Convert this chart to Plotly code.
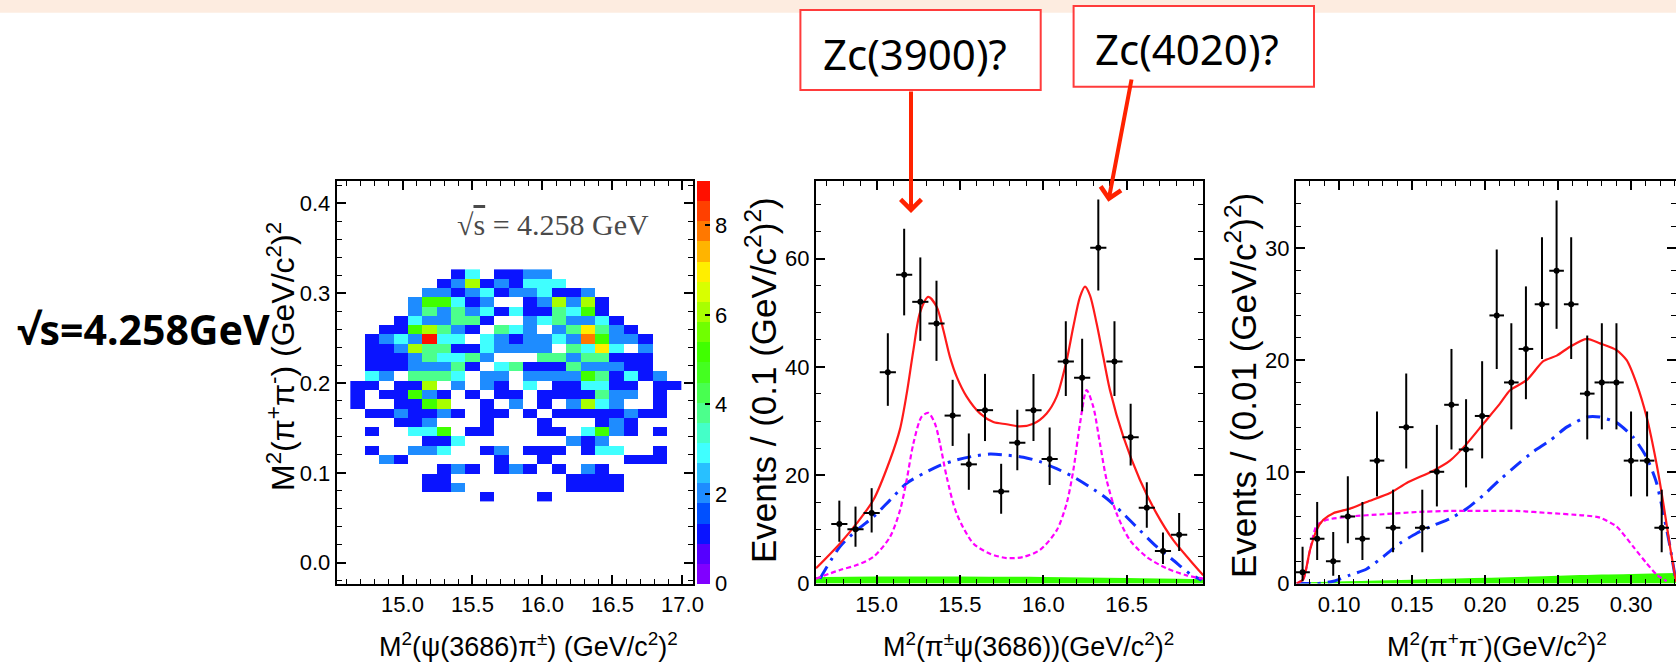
import plotly.graph_objects as go

W, H = 1676, 667

# ---------------- 2D distribution (counts per cell) ----------------
dal_x = [14.679, 14.782, 14.885, 14.988, 15.091, 15.193, 15.296, 15.399, 15.502,
         15.605, 15.708, 15.811, 15.914, 16.017, 16.120, 16.223, 16.325, 16.428,
         16.531, 16.634, 16.737, 16.840, 16.943]
dal_y = [0.3213, 0.3110, 0.3006, 0.2903, 0.2799, 0.2696, 0.2592, 0.2489, 0.2385,
         0.2282, 0.2178, 0.2075, 0.1971, 0.1868, 0.1764, 0.1661, 0.1557, 0.1454,
         0.1350, 0.1247, 0.1143, 0.1040, 0.0936, 0.0833, 0.0729]
# one string per row (top to bottom), one character per cell, '.' = empty
dal_rows = [
    ".......13.1122.........",
    "......126121333........",
    ".....221231223112......",
    "....255312..126261.....",
    "....24242313114351.....",
    "...1322441..2342231....",
    "..1156421.432.247421...",
    ".1232933.321223285221..",
    ".1126441132222.4373.2..",
    ".111243342...44244111..",
    ".11122241.34111422211..",
    ".32.4443.22.2222541312.",
    "11.116.2.21.3.113311.11",
    "1.11521.1.11.1111422.1.",
    "1..1156..1.2.1.2632..1.",
    ".1121121.11.1.11111211.",
    "...112...1...1...121...",
    ".1..335.11...11.3521.1.",
    ".....113.......212.....",
    ".1..223..12.111.133..1.",
    "..21......1..1.....111.",
    "......121.121.1.21.....",
    ".....11........1111....",
    ".....112.......1111....",
    ".........1...1.........",
]
dal_z = [[None if ch == "." else int(ch) for ch in row] for row in dal_rows]

# ---------------- M2(pi psi(3686)) projection ----------------
mid_x = [14.776, 14.873, 14.970, 15.067, 15.165, 15.262, 15.359, 15.456, 15.553,
         15.650, 15.747, 15.844, 15.941, 16.038, 16.135, 16.233, 16.330, 16.427,
         16.524, 16.621, 16.718, 16.815]
mid_n = [11, 10, 13, 39, 57, 52, 48, 31, 22, 32, 17, 26, 32, 23, 41, 38, 62, 41,
         27, 14, 6, 9]
mid_err_up = [4.3, 4.2, 4.6, 7.2, 8.5, 8.2, 7.9, 6.6, 5.7, 6.7, 5.1, 6.1, 6.7, 5.8,
              7.4, 7.2, 8.9, 7.4, 6.2, 4.7, 3.4, 4.0]
mid_err_lo = [3.3, 3.2, 3.6, 6.2, 7.5, 7.2, 6.9, 5.6, 4.7, 5.7, 4.1, 5.1, 5.7, 4.8,
              6.4, 6.2, 7.9, 6.4, 5.2, 3.7, 2.4, 3.0]

mid_tot_x = [14.636, 14.78, 14.88, 14.98, 15.08, 15.14, 15.18, 15.22, 15.26, 15.31,
             15.36, 15.40, 15.44, 15.48, 15.54, 15.62, 15.70, 15.78, 15.86, 15.94,
             16.02, 16.08, 16.14, 16.18, 16.22, 16.25, 16.28, 16.32, 16.36, 16.40,
             16.48, 16.58, 16.68, 16.78, 16.88, 16.96]
mid_tot_y = [2.8, 7.4, 11.1, 15.4, 22.8, 28.5, 35.0, 43.0, 50.0, 52.9,
             51.1, 46.8, 41.8, 38.2, 34.5, 31.4, 29.8, 29.4, 29.0, 29.5,
             31.4, 34.5, 41.2, 47.4, 52.9, 54.8, 53.2, 48.0, 41.8, 35.7,
             27.1, 19.1, 12.9, 8.0, 4.3, 1.5]
mid_sig_x = [14.636, 14.78, 14.88, 14.98, 15.08, 15.14, 15.18, 15.22, 15.27, 15.31,
             15.35, 15.38, 15.42, 15.48, 15.58, 15.68, 15.78, 15.88, 15.98, 16.08,
             16.14, 16.18, 16.22, 16.26, 16.30, 16.34, 16.38, 16.44, 16.52, 16.62,
             16.74, 16.86, 16.96]
mid_sig_y = [0.9, 2.5, 3.4, 4.9, 8.6, 13.5, 19.1, 25.8, 30.8, 31.5,
             29.5, 25.8, 19.7, 12.9, 7.4, 5.5, 4.7, 4.9, 6.2, 9.8,
             14.8, 20.9, 29.5, 35.7, 32.6, 25.8, 19.1, 12.9, 8.0, 4.9,
             2.8, 1.5, 0.9]
mid_bkg_x = [14.66, 14.78, 14.88, 14.98, 15.08, 15.18, 15.28, 15.38, 15.48, 15.58,
             15.68, 15.78, 15.88, 15.98, 16.08, 16.18, 16.28, 16.38, 16.48, 16.58,
             16.68, 16.78, 16.88, 16.95]
mid_bkg_y = [0.9, 6.8, 9.8, 12.3, 15.4, 18.5, 20.3, 21.8, 22.8, 23.5,
             23.9, 23.7, 23.3, 22.5, 21.2, 19.7, 17.8, 15.7, 12.9, 9.8,
             6.8, 4.3, 1.8, 0.6]
mid_flat_x = [14.636, 15.0, 15.5, 16.0, 16.5, 16.96]
mid_flat_y = [1.2, 1.3, 1.3, 1.2, 1.0, 0.8]

# ---------------- M2(pi+ pi-) projection ----------------
pp_x = [0.075, 0.085, 0.096, 0.106, 0.116, 0.126, 0.137, 0.146, 0.157, 0.167,
        0.177, 0.187, 0.198, 0.208, 0.218, 0.228, 0.239, 0.249, 0.259, 0.270,
        0.280, 0.290, 0.300, 0.311, 0.321]
pp_n = [1, 4, 2, 6, 4, 11, 5, 14, 5, 10, 16, 12, 15, 24, 18, 21, 25, 28, 25, 17,
        18, 18, 11, 11, 5]
pp_err_up = [2.3, 3.3, 2.6, 3.6, 3.3, 4.4, 3.4, 4.8, 3.4, 4.2, 5.0, 4.5, 4.9, 5.9,
             5.3, 5.6, 6.0, 6.3, 6.0, 5.2, 5.3, 5.3, 4.4, 4.4, 3.4]
pp_err_lo = [0.8, 1.9, 1.3, 2.4, 1.9, 3.2, 2.2, 3.7, 2.2, 3.1, 4.0, 3.4, 3.8, 4.8,
             4.2, 4.5, 4.9, 5.2, 4.9, 4.1, 4.2, 4.2, 3.2, 3.2, 2.2]

pp_tot_x = [0.0710, 0.0755, 0.0801, 0.0847, 0.0892, 0.0961, 0.1075, 0.1189, 0.1349,
            0.1463, 0.1645, 0.1760, 0.1874, 0.1988, 0.2102, 0.2171, 0.2285, 0.2399,
            0.2491, 0.2582, 0.2696, 0.2787, 0.2901, 0.2970, 0.3038, 0.3107, 0.3175,
            0.3221, 0.3267, 0.3308]
pp_tot_y = [0.0, 0.4, 3.0, 4.8, 5.7, 6.3, 6.7, 7.3, 8.1,
            9.0, 10.1, 11.0, 12.5, 14.3, 16.1, 17.3, 18.2, 19.9,
            20.4, 21.2, 21.9, 21.5, 20.9, 20.0, 17.9, 14.9, 10.7,
            7.2, 3.3, 0.15]
pp_sig_x = [0.0710, 0.0755, 0.0801, 0.0847, 0.0915, 0.1075, 0.1303, 0.1532, 0.1760,
            0.1988, 0.2217, 0.2445, 0.2673, 0.2787, 0.2901, 0.3015, 0.3107, 0.3175,
            0.3244]
pp_sig_y = [0.0, 0.4, 3.0, 5.2, 5.7, 6.0, 6.2, 6.4, 6.5,
            6.5, 6.5, 6.3, 6.1, 5.9, 5.1, 3.3, 1.8, 0.8, 0.2]
pp_bkg_x = [0.0710, 0.0847, 0.0961, 0.1075, 0.1189, 0.1303, 0.1417, 0.1532, 0.1645,
            0.1760, 0.1874, 0.1988, 0.2102, 0.2217, 0.2330, 0.2445, 0.2559, 0.2696,
            0.2787, 0.2901, 0.3015, 0.3107, 0.3175, 0.3221, 0.3267, 0.3308]
pp_bkg_y = [0.0, 0.0, 0.2, 0.75, 1.3, 2.4, 3.6, 4.5, 5.2,
            5.8, 6.7, 7.9, 9.3, 10.6, 11.8, 12.8, 14.0, 14.9,
            14.9, 14.4, 13.1, 11.3, 9.0, 6.3, 3.3, 0.15]
pp_flat_x = [0.0705, 0.12, 0.18, 0.24, 0.28, 0.3308]
pp_flat_y = [0.1, 0.25, 0.45, 0.65, 0.8, 0.95]

# ---------------- styling helpers ----------------
SANS = "Liberation Sans, Arial, sans-serif"
TICK_FONT = dict(family=SANS, size=22, color="black")


def px_x(p):
    return p / W


def px_y(p):
    return 1 - p / H


Y_DOM = [px_y(583.5), px_y(180.5)]


def frame_axis(domain, rng, tick0, dtick, minor_dtick, fmt, anchor):
    return dict(
        domain=domain, range=rng, anchor=anchor,
        showline=True, linecolor="black", linewidth=2, mirror="ticks",
        ticks="inside", ticklen=9, tickwidth=1.5, tickcolor="black",
        tick0=tick0, dtick=dtick, tickformat=fmt,
        minor=dict(ticks="inside", ticklen=5, tickwidth=1.2, tickcolor="black",
                   dtick=minor_dtick, showgrid=False),
        showgrid=False, zeroline=False, tickfont=TICK_FONT,
    )


# stepped rainbow palette, 20 bands over 0..9
band_colors = ["#8000FF", "#5500FF", "#0A14FF", "#0050FF", "#1E8CFF", "#28C0FF",
               "#40FFFF", "#44FFC8", "#4CFF8C", "#48FF50", "#44FF20", "#40FF00",
               "#70FF00", "#A8FF00", "#D8FF00", "#FFEE00", "#FFB400", "#FF7800",
               "#FF4000", "#FF1000"]
nb = len(band_colors)
palette = []
for i, c in enumerate(band_colors):
    palette.append([i / nb, c])
    palette.append([(i + 1) / nb, c])

fig = go.Figure()

fig.add_trace(go.Heatmap(
    x=dal_x, y=dal_y, z=dal_z, zmin=0, zmax=9, colorscale=palette,
    hoverinfo="skip", xaxis="x", yaxis="y",
    colorbar=dict(
        x=px_x(696.7), xanchor="left", xpad=0, ypad=0, thickness=13,
        lenmode="fraction", len=403 / H, y=px_y(382), yanchor="middle",
        outlinewidth=0, tickvals=[0, 2, 4, 6, 8], ticks="inside", ticklen=5,
        tickcolor="black", tickwidth=1.5, tickfont=TICK_FONT,
    ),
))

# middle panel
fig.add_trace(go.Scatter(x=mid_flat_x, y=mid_flat_y, mode="lines", fill="tozeroy",
                         line=dict(width=0, color="#33FF00", shape="spline"),
                         fillcolor="#33FF00", xaxis="x2", yaxis="y2", hoverinfo="skip"))
fig.add_trace(go.Scatter(x=mid_bkg_x, y=mid_bkg_y, mode="lines",
                         line=dict(color="#1030FF", width=3, dash="14px,7px,3px,7px",
                                   shape="spline", smoothing=0.8),
                         xaxis="x2", yaxis="y2", hoverinfo="skip"))
fig.add_trace(go.Scatter(x=mid_sig_x, y=mid_sig_y, mode="lines",
                         line=dict(color="#FF00FF", width=2.2, dash="5px,3px",
                                   shape="spline", smoothing=0.8),
                         xaxis="x2", yaxis="y2", hoverinfo="skip"))
fig.add_trace(go.Scatter(x=mid_tot_x, y=mid_tot_y, mode="lines",
                         line=dict(color="#FF1A1A", width=2.2, shape="spline", smoothing=0.8),
                         xaxis="x2", yaxis="y2", hoverinfo="skip"))
fig.add_trace(go.Scatter(
    x=mid_x, y=mid_n, mode="markers", marker=dict(size=0, color="black"),
    error_y=dict(type="data", symmetric=False, array=mid_err_up, arrayminus=mid_err_lo,
                 color="black", thickness=2, width=0),
    error_x=dict(type="constant", value=0.0485, color="black", thickness=2, width=0),
    xaxis="x2", yaxis="y2", hoverinfo="skip"))

# right panel
fig.add_trace(go.Scatter(x=pp_flat_x, y=pp_flat_y, mode="lines", fill="tozeroy",
                         line=dict(width=0, color="#33FF00", shape="spline"),
                         fillcolor="#33FF00", xaxis="x3", yaxis="y3", hoverinfo="skip"))
fig.add_trace(go.Scatter(x=pp_bkg_x, y=pp_bkg_y, mode="lines",
                         line=dict(color="#1030FF", width=3, dash="14px,7px,3px,7px",
                                   shape="spline", smoothing=0.6),
                         xaxis="x3", yaxis="y3", hoverinfo="skip"))
fig.add_trace(go.Scatter(x=pp_sig_x, y=pp_sig_y, mode="lines",
                         line=dict(color="#FF00FF", width=2.2, dash="5px,3px",
                                   shape="spline", smoothing=0.6),
                         xaxis="x3", yaxis="y3", hoverinfo="skip"))
fig.add_trace(go.Scatter(x=pp_tot_x, y=pp_tot_y, mode="lines",
                         line=dict(color="#FF1A1A", width=2.2, shape="spline", smoothing=0.6),
                         xaxis="x3", yaxis="y3", hoverinfo="skip"))
fig.add_trace(go.Scatter(
    x=pp_x, y=pp_n, mode="markers", marker=dict(size=0, color="black"),
    error_y=dict(type="data", symmetric=False, array=pp_err_up, arrayminus=pp_err_lo,
                 color="black", thickness=2, width=0),
    error_x=dict(type="constant", value=0.005, color="black", thickness=2, width=0),
    xaxis="x3", yaxis="y3", hoverinfo="skip"))

fig.update_layout(
    width=W, height=H, margin=dict(l=0, r=0, t=0, b=0, pad=0, autoexpand=False),
    paper_bgcolor="white", plot_bgcolor="white", showlegend=False,
    xaxis=frame_axis([px_x(336.7), px_x(692.7)], [14.530, 17.073], 15, 0.5, 0.1, ".1f", "y"),
    yaxis=frame_axis(Y_DOM, [-0.0232, 0.4254], 0, 0.1, 0.02, ".1f", "x"),
    xaxis2=frame_axis([px_x(816), px_x(1203.3)], [14.636, 16.960], 15, 0.5, 0.1, ".1f", "y2"),
    yaxis2=frame_axis(Y_DOM, [0, 74.4], 0, 20, 5, "d", "x2"),
    xaxis3=frame_axis([px_x(1296), 1.0], [0.0705, 0.3308], 0.1, 0.05, 0.01, ".2f", "y3"),
    yaxis3=frame_axis(Y_DOM, [0, 36.08], 0, 10, 2, "d", "x3"),
)

shapes = [
    dict(type="rect", xref="paper", yref="paper", x0=0, x1=1, y0=px_y(12.7), y1=1,
         fillcolor="#FDECE0", line=dict(width=0), layer="below"),
    dict(type="rect", xref="paper", yref="paper", x0=px_x(800.4), x1=px_x(1040.7),
         y0=px_y(90), y1=px_y(10), fillcolor="white", line=dict(color="#FF3B3B", width=2)),
    dict(type="rect", xref="paper", yref="paper", x0=px_x(1073.6), x1=px_x(1314),
         y0=px_y(86.7), y1=px_y(6), fillcolor="white", line=dict(color="#FF3B3B", width=2)),
]

ann = []


def label(text, x, y, size, family=SANS, angle=0, color="black", weight="normal",
          xanchor="center"):
    ann.append(dict(text=text, x=px_x(x), y=px_y(y), xref="paper", yref="paper",
                    showarrow=False, textangle=angle, xanchor=xanchor, yanchor="middle",
                    font=dict(family=family, size=size, color=color, weight=weight)))


label("Zc(3900)?", 915, 53, 42, family="Noto Sans, Open Sans, sans-serif")
label("Zc(4020)?", 1187, 49, 42, family="Noto Sans, Open Sans, sans-serif")
label("√s=4.258GeV", 15, 329, 41, family="Noto Sans, Open Sans, sans-serif",
      weight="bold", xanchor="left")
label("√<span style='text-decoration:overline'>s</span> = 4.258 GeV", 553, 224, 30,
      family="Liberation Serif, DejaVu Serif, serif", color="#4a4a4a")

label("M<sup>2</sup>(ψ(3686)π<sup>±</sup>) (GeV/c<sup>2</sup>)<sup>2</sup>", 528, 645, 27)
label("M<sup>2</sup>(π<sup>±</sup>ψ(3686))(GeV/c<sup>2</sup>)<sup>2</sup>", 1028, 645, 27)
label("M<sup>2</sup>(π<sup>+</sup>π<sup>-</sup>)(GeV/c<sup>2</sup>)<sup>2</sup>", 1497, 645, 27)
label("M<sup>2</sup>(π<sup>+</sup>π<sup>-</sup>) (GeV/c<sup>2</sup>)<sup>2</sup>", 281, 357, 32,
      angle=-90)
label("Events / (0.1 (GeV/c<sup>2</sup>)<sup>2</sup>)", 761, 380, 35, angle=-90)
label("Events / (0.01 (GeV/c<sup>2</sup>)<sup>2</sup>)", 1241, 386, 35, angle=-90)

# arrows from the boxes down to the two peaks
for tip_x, tip_y, tail_x, tail_y in [(911, 213, 911, 90), (1108.3, 201.7, 1131.8, 78)]:
    ann.append(dict(text="", x=px_x(tip_x), y=px_y(tip_y), xref="paper", yref="paper",
                    showarrow=True, ax=tail_x - tip_x, ay=tail_y - tip_y,
                    arrowcolor="#FF2200", arrowwidth=4, arrowhead=4, arrowsize=1))

fig.update_layout(shapes=shapes, annotations=ann)
fig.write_html("out.html")
